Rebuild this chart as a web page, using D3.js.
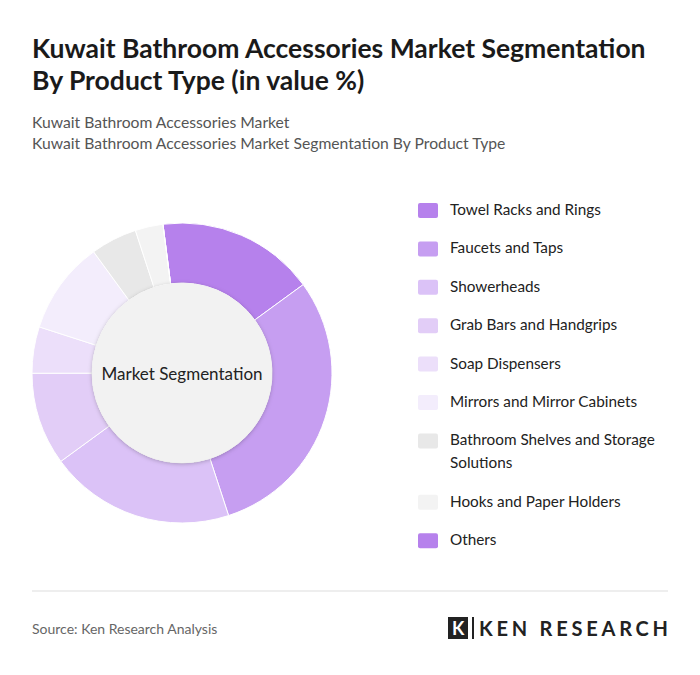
<!DOCTYPE html>
<html><head><meta charset="utf-8">
<script src="https://cdn.jsdelivr.net/npm/d3@7"></script>
<style>body{margin:0;background:#fff;font-family:Lato,"Open Sans",sans-serif}</style>
</head><body><svg id="c" width="700" height="675"></svg>
<script>
const categories=["Towel Racks and Rings","Faucets and Taps","Showerheads","Grab Bars and Handgrips","Soap Dispensers","Mirrors and Mirror Cabinets","Bathroom Shelves and Storage Solutions","Hooks and Paper Holders","Others"];
const values=[17,30,20,10,5,10,5,3,0];
const colors=["#b681ec","#c69ef1","#dbc2f7","#e2cdf7","#ecdffa","#f3edfc","#e8e8e8","#f3f3f3","#b681ec"];
const legendLabels=[["Towel Racks and Rings"],["Faucets and Taps"],["Showerheads"],["Grab Bars and Handgrips"],["Soap Dispensers"],["Mirrors and Mirror Cabinets"],["Bathroom Shelves and Storage","Solutions"],["Hooks and Paper Holders"],["Others"]];
const svg=d3.select("#c");
svg.append("text").attr("x",32).attr("y",58).attr("font-size",26.5).attr("font-weight",700).attr("fill","#1a1a1a").text("Kuwait Bathroom Accessories Market Segmentation");
svg.append("text").attr("x",32).attr("y",90).attr("font-size",26.5).attr("font-weight",700).attr("fill","#1a1a1a").text("By Product Type (in value %)");
svg.append("text").attr("x",32).attr("y",128).attr("font-size",15.7).attr("fill","#555").text("Kuwait Bathroom Accessories Market");
svg.append("text").attr("x",32).attr("y",149).attr("font-size",15.7).attr("fill","#555").text("Kuwait Bathroom Accessories Market Segmentation By Product Type");
const off=-7.3*Math.PI/180;
const pie=d3.pie().sort(null).value(d=>d).startAngle(off).endAngle(off+2*Math.PI);
const arc=d3.arc().innerRadius(90).outerRadius(150);
const g=svg.append("g").attr("transform","translate(182,373)");
g.selectAll("path").data(pie(values)).join("path").attr("d",arc).attr("fill",(d,i)=>colors[i]).attr("stroke","#fff").attr("stroke-width",1);
const defs=svg.append("defs");
const f=defs.append("filter").attr("id","sh").attr("x","-20%").attr("y","-20%").attr("width","140%").attr("height","140%");
f.append("feDropShadow").attr("dx",0).attr("dy",1).attr("stdDeviation",2).attr("flood-opacity",0.25);
g.append("circle").attr("r",90).attr("fill","#f2f2f2").attr("filter","url(#sh)");
g.append("text").attr("text-anchor","middle").attr("dy",7).attr("font-size",17).attr("fill","#222").text("Market Segmentation");
const lg=svg.append("g");
let base=210;
legendLabels.forEach((l,i)=>{
  lg.append("rect").attr("x",418).attr("y",base-7).attr("width",20).attr("height",15).attr("rx",2).attr("fill",colors[i]);
  l.forEach((t,j)=>lg.append("text").attr("x",450).attr("y",base+5+j*23).attr("font-size",15.3).attr("fill","#222").text(t));
  base+=38.4+(l.length-1)*23;
});
svg.append("line").attr("x1",32).attr("x2",668).attr("y1",591).attr("y2",591).attr("stroke","#ddd");
svg.append("text").attr("x",32).attr("y",634).attr("font-size",14).attr("fill","#666").text("Source: Ken Research Analysis");
const lo=svg.append("g").attr("transform","translate(448,617)");
lo.append("rect").attr("width",20).attr("height",22).attr("fill","#222");
lo.append("text").attr("x",4).attr("y",18).attr("font-size",18).attr("font-weight",700).attr("fill","#fff").text("K");
lo.append("rect").attr("x",24).attr("y",617-617).attr("width",2).attr("height",22).attr("fill","#222");
lo.append("text").attr("x",31).attr("y",19).attr("font-size",20).attr("font-weight",700).attr("fill","#222").attr("textLength",189).text("KEN RESEARCH");
</script></body></html>
